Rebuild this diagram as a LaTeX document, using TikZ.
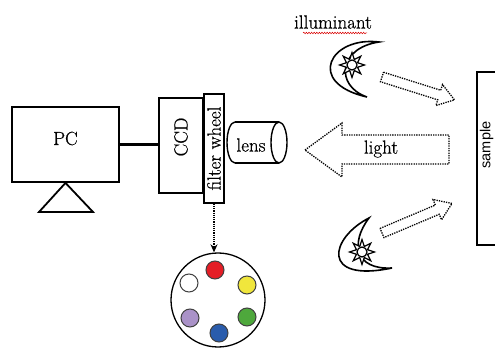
\documentclass[tikz,border=0pt]{standalone}
\usepackage{fontspec}
\newfontfamily\samplefont{Liberation Sans}
\newfontfamily\lblfont{Latin Modern Roman}[FakeBold=0.6]
\usetikzlibrary{arrows.meta,decorations.pathmorphing,shapes.geometric}

\definecolor{fred}{RGB}{228,30,38}
\definecolor{fyellow}{RGB}{240,230,60}
\definecolor{fgreen}{RGB}{78,168,60}
\definecolor{fblue}{RGB}{42,92,172}
\definecolor{fpurple}{RGB}{170,146,200}

\tikzset{
  box/.style={draw, line width=1.8pt, inner sep=0pt},
  outline/.style={line width=1.8pt},
  lbl/.style={font=\lblfont\fontsize{19}{22}\selectfont},
  dotarrow/.style={line width=1.3pt, dash pattern=on 1.3pt off 1.1pt},
  moon/.style={line width=1.6pt, fill=white},
  sunray/.style={star, star points=8, star point ratio=2.1, draw, line width=1.2pt,
                 fill=white, minimum size=25pt, inner sep=0pt},
  sundisc/.style={circle, draw, line width=1.2pt, fill=white, minimum size=10pt, inner sep=0pt},
  slot/.style={circle, draw=black!75, line width=1pt, minimum size=18pt, inner sep=0pt},
}

\begin{document}
\begin{tikzpicture}[x=1pt,y=1pt]
\useasboundingbox (0,0) rectangle (495,348);

% computer with its stand
\node[box, minimum width=107pt, minimum height=75pt] (pc) at (65.5,203.5) {};
\node[lbl] (pctext) at (65.5,209.5) {PC};
\draw[outline, line join=miter] (pc.south) -- (39,136) -- (93,136) -- cycle;

% camera and filter wheel
\node[box, minimum width=44pt, minimum height=95pt] (ccd) at (181,202.5) {};
\node[lbl, rotate=90] (ccdtext) at (181,211) {CCD};
\node[box, line width=1.5pt, minimum width=20pt, minimum height=109pt] (fw) at (214,199.5) {};
\node[lbl, rotate=90, inner sep=0pt] (fwtext) at (fw.center) {filter wheel};
\draw[line width=3.2pt] (pc.east) -- (pc.east -| ccd.west);

% lens barrel
\draw[line width=1.4pt] (235,226) -- (279,226) (235,185) -- (279,185);
\draw[line width=1.4pt] (235,226) arc (90:270:8 and 20.5);
\draw[line width=1.4pt] (279,205.5) ellipse (8 and 20.5);
\node[lbl] (lens) at (251,203) {lens};

% reflected light
\draw[dotarrow] (305,198) -- (342,225) -- (342,213) -- (449,213) -- (449,184)
  -- (342,184) -- (342,171) -- cycle;
\node[lbl] (light) at (381,199) {light};

% sample
\draw[outline] (510,103) -- (477,103) -- (477,276) -- (510,276);
\node[rotate=90, font=\samplefont\fontsize{14.5}{16}\selectfont] (sample) at (486.5,203) {sample};

% filter wheel detail
\node[circle, draw, line width=1.3pt, minimum size=94pt, inner sep=0pt] (wheel) at (218,48) {};
\draw[line width=1.2pt, dash pattern=on 1.2pt off 1pt, -{Stealth[length=8pt,width=7pt]}]
  (fw.south) -- (fw.south |- wheel.north);
\node[slot, fill=fred] (fr) at (215,78) {};
\node[slot, fill=fyellow] (fy) at (247,63) {};
\node[slot, fill=fgreen] (fg) at (247,31) {};
\node[slot, fill=fblue] (fb) at (219,15) {};
\node[slot, fill=fpurple] (fp) at (190,30) {};
\node[slot, fill=white] (fw0) at (189,65) {};

% upper lamp
\node[lbl] (illum) at (333,326) {illuminant};
\draw[red!85!black, line width=0.5pt, decorate,
  decoration={snake, amplitude=0.8pt, segment length=2.6pt}] (303,315) -- (367,315);
\draw[moon] (379,306) .. controls (330,312) and (305,265) .. (367,251)
  .. controls (335,262) and (338,300) .. (379,306) -- cycle;
\node[sunray] (sunA) at (352,283) {};
\node[sundisc] (discA) at (sunA.center) {};
\begin{scope}[shift={(382,271)}, rotate=-17.5]
  \draw[dotarrow] (0,5) -- (60,5) -- (60,11) -- (76,0) -- (60,-11) -- (60,-5) -- (0,-5) -- cycle;
\end{scope}

% lower lamp
\draw[moon] (369,130) .. controls (330,110) and (320,65) .. (392,80)
  .. controls (355,78) and (350,105) .. (369,130) -- cycle;
\node[sunray] (sunB) at (362,96) {};
\node[sundisc] (discB) at (sunB.center) {};
\begin{scope}[shift={(382,115)}, rotate=22.9]
  \draw[dotarrow] (0,5) -- (60,5) -- (60,11) -- (76,0) -- (60,-11) -- (60,-5) -- (0,-5) -- cycle;
\end{scope}
\end{tikzpicture}
\end{document}
